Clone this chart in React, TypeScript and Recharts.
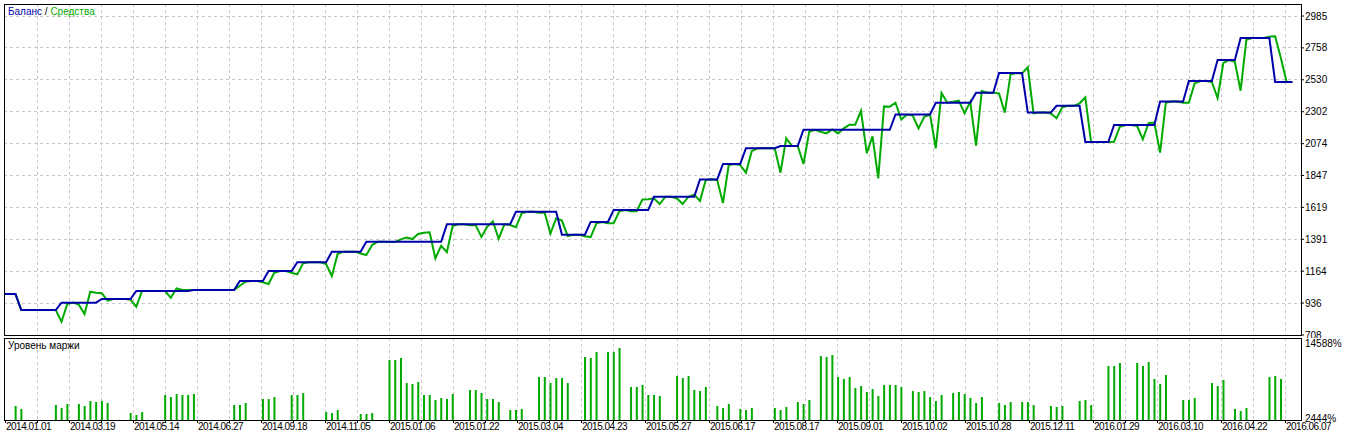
import React from "react";
import { LineChart, Line, BarChart, Bar, XAxis, YAxis, CartesianGrid } from "recharts";

// ---- x-axis date labels (one every two grid cells) ----
const dateLabels = [
  "2014.01.01", "2014.03.19", "2014.05.14", "2014.06.27", "2014.09.18", "2014.11.05",
  "2015.01.06", "2015.01.22", "2015.03.04", "2015.04.23", "2015.05.27", "2015.06.17",
  "2015.08.17", "2015.09.01", "2015.10.02", "2015.10.28", "2015.12.11", "2016.01.29",
  "2016.03.10", "2016.04.22", "2016.06.07",
];

// ---- balance per deal index 0..224 ----
const balance = [
  1000, 1000, 1000,
  886, 886, 886, 886, 886, 886, 886,
  939, 939, 939, 939, 939, 939, 939,
  965, 965, 965, 965, 965, 965,
  1022, 1022, 1022, 1022, 1022, 1022, 1022, 1022, 1022, 1022,
  1029, 1029, 1029, 1029, 1029, 1029, 1029, 1029,
  1093, 1093, 1093, 1093, 1093,
  1165, 1165, 1165, 1165, 1165,
  1227, 1227, 1227, 1227, 1227, 1227,
  1303, 1303, 1303, 1303, 1303, 1303,
  1374, 1374, 1374, 1374, 1374, 1374, 1374, 1374, 1374, 1374, 1374, 1374, 1374, 1374,
  1498, 1498, 1498, 1498, 1498, 1498, 1498, 1498, 1498, 1498, 1498, 1498,
  1588, 1588, 1588, 1588, 1588, 1588, 1588, 1588,
  1424, 1424, 1424, 1424, 1424,
  1515, 1515, 1515, 1515,
  1600, 1600, 1600, 1600, 1600, 1600, 1600,
  1695, 1695, 1695, 1695, 1695, 1695, 1695, 1695,
  1819, 1819, 1819, 1819,
  1929, 1929, 1929, 1929,
  2041, 2041, 2041, 2041, 2041, 2041,
  2057, 2057, 2057, 2057,
  2173, 2173, 2173, 2173, 2173, 2173, 2173, 2173, 2173, 2173, 2173, 2173, 2173, 2173, 2173, 2173,
  2282, 2282, 2282, 2282, 2282, 2282, 2282,
  2366, 2366, 2366, 2366, 2366, 2366, 2366,
  2438, 2438, 2438, 2438,
  2578, 2578, 2578, 2578, 2578,
  2296, 2296, 2296, 2296, 2296,
  2344, 2344, 2344, 2344, 2344,
  2086, 2086, 2086, 2086, 2086,
  2207, 2207, 2207, 2207, 2207, 2207, 2207, 2207,
  2375, 2375, 2375, 2375, 2375,
  2521, 2521, 2521, 2521, 2521,
  2671, 2671, 2671, 2671,
  2828, 2828, 2828, 2828, 2828, 2828,
  2515, 2515, 2515, 2515,
];

// ---- equity per deal index 0..224 ----
const equity = [
  1000, 1000, 1000, 886, 886, 886, 886, 886, 886, 886,
  803, 929, 939, 925, 858, 1017, 1010, 1006, 953, 965,
  965, 965, 960, 910, 1022, 1022, 1022, 1022, 1022, 974,
  1041, 1029, 1029, 1029, 1029, 1029, 1029, 1029, 1029, 1029,
  1029, 1060, 1088, 1093, 1093, 1084, 1072, 1153, 1165, 1165,
  1153, 1141, 1220, 1227, 1227, 1227, 1215, 1129, 1286, 1303,
  1303, 1303, 1290, 1279, 1350, 1374, 1374, 1372, 1372, 1391,
  1403, 1393, 1429, 1438, 1441, 1255, 1345, 1299, 1486, 1498,
  1498, 1492, 1492, 1408, 1480, 1520, 1395, 1498, 1493, 1477,
  1577, 1588, 1588, 1580, 1580, 1432, 1541, 1525, 1415, 1424,
  1424, 1413, 1407, 1505, 1515, 1505, 1505, 1592, 1600, 1592,
  1592, 1675, 1677, 1684, 1643, 1695, 1695, 1683, 1643, 1695,
  1710, 1665, 1814, 1819, 1814, 1650, 1921, 1929, 1921, 1867,
  2020, 2041, 2041, 2041, 2041, 1867, 2112, 2057, 2057, 1929,
  2159, 2173, 2159, 2147, 2176, 2147, 2183, 2209, 2209, 2308,
  2006, 2126, 1826, 2340, 2338, 2366, 2246, 2282, 2274, 2183,
  2265, 2282, 2041, 2436, 2366, 2373, 2381, 2292, 2373, 2060,
  2450, 2438, 2438, 2433, 2295, 2568, 2578, 2575, 2619, 2290,
  2296, 2296, 2290, 2255, 2333, 2344, 2344, 2362, 2404, 2086,
  2086, 2086, 2086, 2088, 2195, 2207, 2207, 2200, 2105, 2220,
  2225, 2010, 2366, 2375, 2375, 2366, 2366, 2504, 2521, 2521,
  2514, 2400, 2650, 2671, 2659, 2452, 2815, 2828, 2828, 2828,
  2838, 2840, 2685, 2515, 2515,
];

// ---- margin level (%) : deal index and value ----
const marginIndex = [
  2, 3, 9, 10, 11, 13, 14, 15, 16, 17, 18, 22, 23, 24, 28, 29, 30, 31, 32, 33,
  40, 41, 42, 45, 46, 47, 50, 51, 52, 56, 57, 58, 62, 63, 64, 67, 68, 69, 70, 71,
  72, 73, 74, 75, 76, 77, 78, 81, 82, 83, 84, 85, 86, 88, 89, 90, 93, 94, 95, 96,
  97, 98, 101, 102, 103, 105, 106, 107, 109, 110, 111, 112, 113, 114, 117, 118, 119, 120, 121, 122,
  124, 125, 126, 128, 129, 130, 134, 135, 136, 138, 139, 140, 142, 143, 144, 145, 146, 147, 148, 149,
  150, 151, 152, 153, 154, 155, 156, 158, 159, 160, 161, 162, 163, 165, 166, 167, 168, 169, 170, 173,
  174, 175, 177, 178, 179, 182, 183, 184, 187, 188, 189, 192, 193, 194, 197, 198, 199, 200, 201, 202,
  205, 206, 207, 210, 211, 212, 214, 215, 216, 220, 221, 222,
];
const marginLevel = [
  4652, 4179, 4810, 4336, 4967, 4967, 4652, 5440, 5283, 5440, 5125, 3548, 3233, 3706, 6387, 6071, 6544, 6387, 6387, 6544,
  4810, 4810, 5125, 5756, 5756, 6071, 6387, 6387, 6702, 3706, 3548, 4021, 3390, 3390, 3548, 11906, 11906, 12221, 8279, 8121,
  8437, 6387, 6387, 5598, 5913, 5756, 6544, 7175, 7175, 6702, 5756, 5756, 5283, 4021, 4021, 4179, 9225, 9225, 8279, 9067,
  9067, 8279, 12379, 12221, 13168, 13168, 13168, 13798, 7648, 7648, 7964, 6387, 6387, 6229, 9383, 9067, 9383, 7175, 7017, 7648,
  4652, 4336, 4967, 4179, 4021, 4336, 4336, 4021, 4494, 5283, 4967, 5598, 12537, 12379, 12695, 9225, 8910, 9225, 7490, 7806,
  6860, 7333, 6229, 7964, 7964, 7964, 7648, 7017, 6860, 7017, 6071, 5440, 6387, 6702, 6860, 6544, 5913, 5125, 6071, 5125,
  4810, 5283, 5283, 5283, 4810, 4652, 4494, 4652, 5440, 5598, 4810, 10960, 10960, 11433, 11433, 10960, 11591, 8910, 8121, 9541,
  5598, 5598, 5913, 8279, 7806, 8752, 4179, 3863, 4336, 9225, 9383, 8910,
];

// ---- axis ticks ----
const priceTicks = [708, 936, 1164, 1391, 1619, 1847, 2074, 2302, 2530, 2758, 2985];
const marginTicks = [2444, 14588];

// ---- axis geometry (in deal-index units) ----
const X_MAX = 225.5;
const GRID_START = 5.824;
const GRID_STEP = 5.5636;
const gridValues = Array.from({ length: 40 }, (_, k) => GRID_START + k * GRID_STEP);
const xTickValues = Array.from({ length: 41 }, (_, k) => GRID_START + (k - 1) * GRID_STEP);

const rows = balance.map((b, i) => ({ i, balance: b, equity: equity[i] }));
const marginRows = marginIndex.map((i, k) => ({ i, margin: marginLevel[k] }));

const FONT = "'Liberation Sans', Arial, sans-serif";
const GREEN = "#00aa00";
const BLUE = "#0000aa";
const GRID = "#c8c8c8";

const verticalGrid = (props: any) => {
  const { xAxis, offset } = props;
  return gridValues.map((v) =>
    xAxis && typeof xAxis.scale === "function"
      ? xAxis.scale(v)
      : offset.left + (v / X_MAX) * offset.width
  );
};

function DateTick(props: any) {
  const { x, y, index } = props;
  if (index % 2 !== 0) return <g />;
  const label = dateLabels[index / 2];
  return (
    <text x={x + 0.5} y={y + 7} fontSize={10} fontFamily={FONT} fill="#000" letterSpacing={-0.5}>
      {label}
    </text>
  );
}

function MarginTick(props: any) {
  const { x, y, payload } = props;
  const shift = payload.value === marginTicks[0] ? -2 : 0;
  return (
    <text x={x} y={y + shift} dy="0.355em" fontSize={10} fontFamily={FONT} fill="#000" textAnchor="start">
      {payload.value}%
    </text>
  );
}

export default function App() {
  return (
    <div style={{ position: "absolute", left: 0, top: 0, width: 1346, height: 436, background: "#fff", overflow: "hidden" }}>
      <div style={{ position: "absolute", left: 0, top: 0 }}>
        <LineChart width={1346} height={338} data={rows} margin={{ top: 4, right: 0, bottom: 3, left: 4 }}>
          <CartesianGrid
            stroke={GRID}
            strokeDasharray="3 3"
            shapeRendering="crispEdges"
            verticalCoordinatesGenerator={verticalGrid}
          />
          <XAxis dataKey="i" type="number" domain={[0, X_MAX]} hide />
          <YAxis
            orientation="right"
            type="number"
            domain={[708, 3071]}
            ticks={priceTicks}
            interval={0}
            width={45}
            tickSize={3}
            tickMargin={1}
            axisLine={false}
            tickLine={{ stroke: "#000" }}
            tick={{ fontSize: 10, fontFamily: FONT, fill: "#000" }}
          />
          <Line type="linear" dataKey="equity" stroke={GREEN} strokeWidth={2} dot={false} isAnimationActive={false} />
          <Line type="linear" dataKey="balance" stroke={BLUE} strokeWidth={2} dot={false} isAnimationActive={false} />
        </LineChart>
      </div>
      <div style={{ position: "absolute", left: 0, top: 338 }}>
        <BarChart width={1346} height={98} data={marginRows} margin={{ top: 0, right: 0, bottom: 0, left: 4 }}>
          <CartesianGrid
            stroke={GRID}
            strokeDasharray="3 3"
            shapeRendering="crispEdges"
            horizontal={false}
            verticalCoordinatesGenerator={verticalGrid}
          />
          <XAxis
            dataKey="i"
            type="number"
            domain={[0, X_MAX]}
            ticks={xTickValues}
            interval={0}
            height={16}
            tickSize={3}
            tickMargin={0}
            axisLine={false}
            tickLine={{ stroke: "#000" }}
            tick={<DateTick />}
          />
          <YAxis
            orientation="right"
            type="number"
            domain={[2444, 15377]}
            ticks={marginTicks}
            interval={0}
            width={45}
            tickSize={3}
            tickMargin={1}
            axisLine={false}
            tickLine={false}
            tick={<MarginTick />}
          />
          <Bar dataKey="margin" fill={GREEN} barSize={2} isAnimationActive={false} />
        </BarChart>
      </div>
      {/* panel frames */}
      <div style={{ position: "absolute", left: 4, top: 4, width: 1298, height: 332, border: "1px solid #000", boxSizing: "border-box", pointerEvents: "none" }} />
      <div style={{ position: "absolute", left: 4, top: 338, width: 1298, height: 83, border: "1px solid #000", boxSizing: "border-box", pointerEvents: "none" }} />
      {/* panel titles */}
      <div style={{ position: "absolute", left: 8, top: 6, fontFamily: FONT, fontSize: 10, lineHeight: "12px", whiteSpace: "nowrap" }}>
        <span style={{ color: BLUE }}>Баланс</span>
        <span style={{ color: "#000" }}> / </span>
        <span style={{ color: GREEN }}>Средства</span>
      </div>
      <div style={{ position: "absolute", left: 8, top: 340, fontFamily: FONT, fontSize: 10, lineHeight: "12px", color: "#000", whiteSpace: "nowrap" }}>
        Уровень маржи
      </div>
    </div>
  );
}
